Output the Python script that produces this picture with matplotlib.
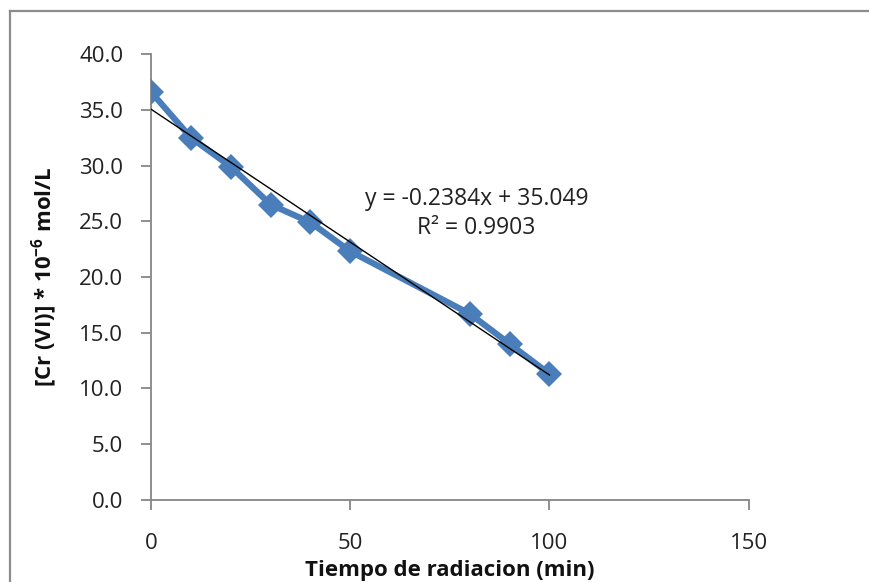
import numpy as np
import matplotlib
matplotlib.use("Agg")
import matplotlib.pyplot as plt
from matplotlib.lines import Line2D

# data
tiempo = [0, 10, 20, 30, 40, 50, 80, 90, 100]
cr_vi = [36.6, 32.5, 29.9, 26.5, 24.9, 22.3, 16.7, 14.0, 11.3]

# linear trend line as printed on the chart
pendiente = -0.2384
intercepto = 35.049
r2 = 0.9903

x_ticks = [0, 50, 100, 150]
y_ticks = [0, 5, 10, 15, 20, 25, 30, 35, 40]

plt.rcParams['font.family'] = ['Open Sans', 'DejaVu Sans']

fig = plt.figure(figsize=(8.69, 5.82), dpi=100)
ax = fig.add_axes([0.1738, 0.1409, 0.6878, 0.7663])

azul = '#4a7ebb'
gris = '#868686'

ax.plot(tiempo, cr_vi, color=azul, lw=4.5, marker='D', markersize=13,
        markeredgewidth=0, solid_joinstyle='round', zorder=2)

xt = np.array([tiempo[0], tiempo[-1]])
ax.plot(xt, pendiente * xt + intercepto, color='black', lw=1.0, zorder=3)

ax.text(81.7, 25.7, "y = %.4fx + %.3f\nR² = %.4f" % (pendiente, intercepto, r2),
        ha='center', va='center', fontsize=16.5, color='#222222',
        linespacing=1.3)

ax.set_xlim(0, 150)
ax.set_ylim(0, 40)
ax.set_xticks(x_ticks)
ax.set_yticks(y_ticks)
ax.set_yticklabels(["%.1f" % v for v in y_ticks])
ax.set_xticklabels([str(v) for v in x_ticks])

for s in ['top', 'right']:
    ax.spines[s].set_visible(False)
for s in ['left', 'bottom']:
    ax.spines[s].set_color(gris)
    ax.spines[s].set_linewidth(1.3)
    ax.spines[s].set_zorder(1)

ax.tick_params(axis='both', direction='out', length=7, width=1.3, color=gris,
               labelsize=16, labelcolor='#222222')
ax.tick_params(axis='y', pad=13)
ax.tick_params(axis='x', pad=17)

ax.set_xlabel("Tiempo de radiacion (min)", fontsize=16, fontweight='bold',
              color='#111111', labelpad=4)
ax.set_ylabel(r"[Cr (VI)] * 10$^{\mathregular{-6}}$ mol/L", fontsize=16,
              fontweight='bold', color='#111111', labelpad=14)

# outer chart frame (only top and left visible in the crop)
fig.add_artist(Line2D([10 / 869, 1], [1 - 11 / 582, 1 - 11 / 582],
                      transform=fig.transFigure, color='#8c8c8c', lw=1.6))
fig.add_artist(Line2D([10 / 869, 10 / 869], [0, 1 - 11 / 582],
                      transform=fig.transFigure, color='#8c8c8c', lw=1.6))

fig.savefig("out.png", dpi=100)
